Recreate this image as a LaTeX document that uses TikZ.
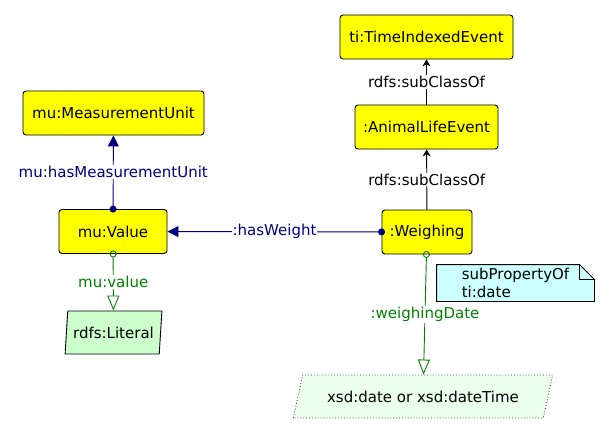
\documentclass[tikz,border=0pt]{standalone}
\usepackage{fontspec}
\setmainfont{DejaVu Sans}
\usepackage{xcolor}
\usetikzlibrary{shapes.geometric, arrows.meta, positioning}

\definecolor{propblue}{RGB}{0,0,128}
\definecolor{propgreen}{RGB}{0,128,0}
\definecolor{clsyellow}{RGB}{255,255,0}
\definecolor{litgreen}{RGB}{204,255,204}
\definecolor{dtgreen}{RGB}{236,255,236}
\definecolor{notecyan}{RGB}{204,255,255}

\tikzset{
    cls/.style={draw, fill=clsyellow, rounded corners=3pt, minimum height=44pt, inner xsep=6pt},
    lit/.style={draw, fill=litgreen, trapezium, trapezium stretches=true, inner sep=1pt,
        trapezium left angle=80, trapezium right angle=100, minimum width=97pt, minimum height=43pt},
    dtype/.style={draw=black!70, dotted, fill=dtgreen, trapezium, trapezium stretches=true, inner sep=1pt,
        trapezium left angle=61, trapezium right angle=119, minimum width=260pt, minimum height=43pt},
    lbl/.style={fill=white, inner sep=1pt},
    objprop/.style={propblue, {Circle[length=7pt]}-{Triangle[length=11pt,width=11pt]}, shorten <=-3.5pt},
    dataprop/.style={propgreen, {Circle[open,length=7pt]}-{Triangle[open,length=15pt,width=12pt]}, shorten <=-3.5pt},
    subcls/.style={-{Stealth[length=7pt,width=8pt]}}
}

\begin{document}
\begin{tikzpicture}[x=1pt, y=-1pt, line width=0.9pt, font=\fontsize{15}{18}\selectfont]
        \useasboundingbox (0,0) rectangle (610,434);
        \node[cls, minimum width=181pt] (unit) at (113.5, 113) {mu:MeasurementUnit};
        \node[cls, minimum width=108pt] (value) at (113, 231.5) {mu:Value};
        \node[lit] (literal) at (113.5, 332.5) {rdfs:Literal};
        \node[cls, minimum width=173pt] (tie) at (426.5, 37) {ti:TimeIndexedEvent};
        \node[cls, minimum width=143pt] (ale) at (426.5, 127) {:AnimalLifeEvent};
        \node[cls, minimum width=90pt] (weigh) at (427, 232) {:Weighing};
        \node[dtype] (date) at (423, 396.5) {xsd:date or xsd:dateTime};
        \node[minimum width=157pt, minimum height=36pt, align=left, inner sep=0pt] (note) at (515.5, 283) {subPropertyOf\\ti:date};

        % note with folded corner
        \draw[fill=notecyan] (note.north west) -- ([xshift=-15pt]note.north east)
            -- ([yshift=-15pt]note.north east) -- (note.south east) -- (note.south west) -- cycle;
        \draw ([xshift=-15pt]note.north east) |- ([yshift=-15pt]note.north east);
        \node[align=left, inner sep=0pt] at (note) {subPropertyOf\\ti:date};

        \draw[subcls] (ale) to node[lbl] {rdfs:subClassOf} (tie);
        \draw[subcls] (weigh) to node[lbl] {rdfs:subClassOf} (ale);
        \draw[objprop] (value) to node[lbl] {mu:hasMeasurementUnit} (unit);
        \draw[objprop] (weigh) to node[lbl] {:hasWeight} (value);
        \draw[dataprop] (value) to node[lbl] {mu:value} (literal);
        \draw[dataprop] (weigh) to node[lbl] {:weighingDate} (date);
    \end{tikzpicture}
\end{document}
